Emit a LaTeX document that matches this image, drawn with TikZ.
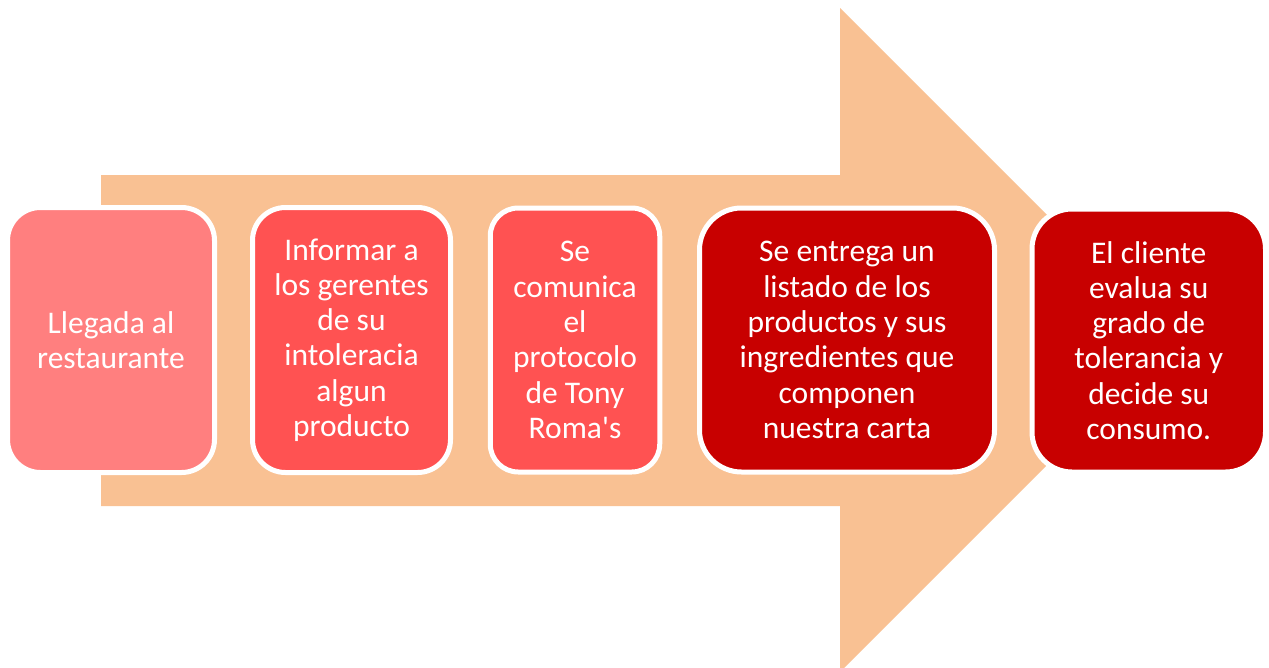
\documentclass[tikz,border=0pt]{standalone}
\usepackage{fontspec}
\setmainfont{Carlito}[Ligatures=TeXOff]
\definecolor{arrowc}{HTML}{F9C193}
\definecolor{pinkc}{HTML}{FF7F7F}
\definecolor{redc}{HTML}{FF5252}
\definecolor{darkc}{HTML}{C80000}
\begin{document}
\begin{tikzpicture}[x=1pt,y=-1pt,
  stepbox/.style={draw=white, line width=5pt, text=white, align=center,
    inner sep=0pt, font=\fontsize{31.5}{35.3}\selectfont},
  bigarrow/.style={fill=arrowc, draw=none}]
\clip (0,0) rectangle (1269,667);
\fill[white] (0,0) rectangle (1269,667);
\path[bigarrow] (101,175) -- (840,175) -- (840,8) -- (1172,340) -- (840,672) -- (840,506) -- (101,506) -- cycle;
\node[stepbox, fill=pinkc, rounded corners=33pt, minimum width=207pt, minimum height=265pt] (s1) at (111,340) {Llegada al\\restaurante};
\node[stepbox, fill=redc, rounded corners=33pt, minimum width=198pt, minimum height=265pt] (s2) at (351.5,340) {Informar a\\los gerentes\\de su\\intoleracia\\algun\\producto};
\node[stepbox, fill=redc, rounded corners=28pt, minimum width=169.5pt, minimum height=264pt] (s3) at (575,340) {Se\\comunica\\el\\protocolo\\de Tony\\Roma's};
\node[stepbox, fill=darkc, rounded corners=42pt, minimum width=295pt, minimum height=264pt] (s4) at (847,340) {Se entrega un\\listado de los\\productos y sus\\ingredientes que\\componen\\nuestra carta};
\node[stepbox, fill=darkc, rounded corners=40pt, minimum width=233.5pt, minimum height=263pt] (s5) at (1148.75,340.5) {El cliente\\evalua su\\grado de\\tolerancia y\\decide su\\consumo.};
\end{tikzpicture}
\end{document}
